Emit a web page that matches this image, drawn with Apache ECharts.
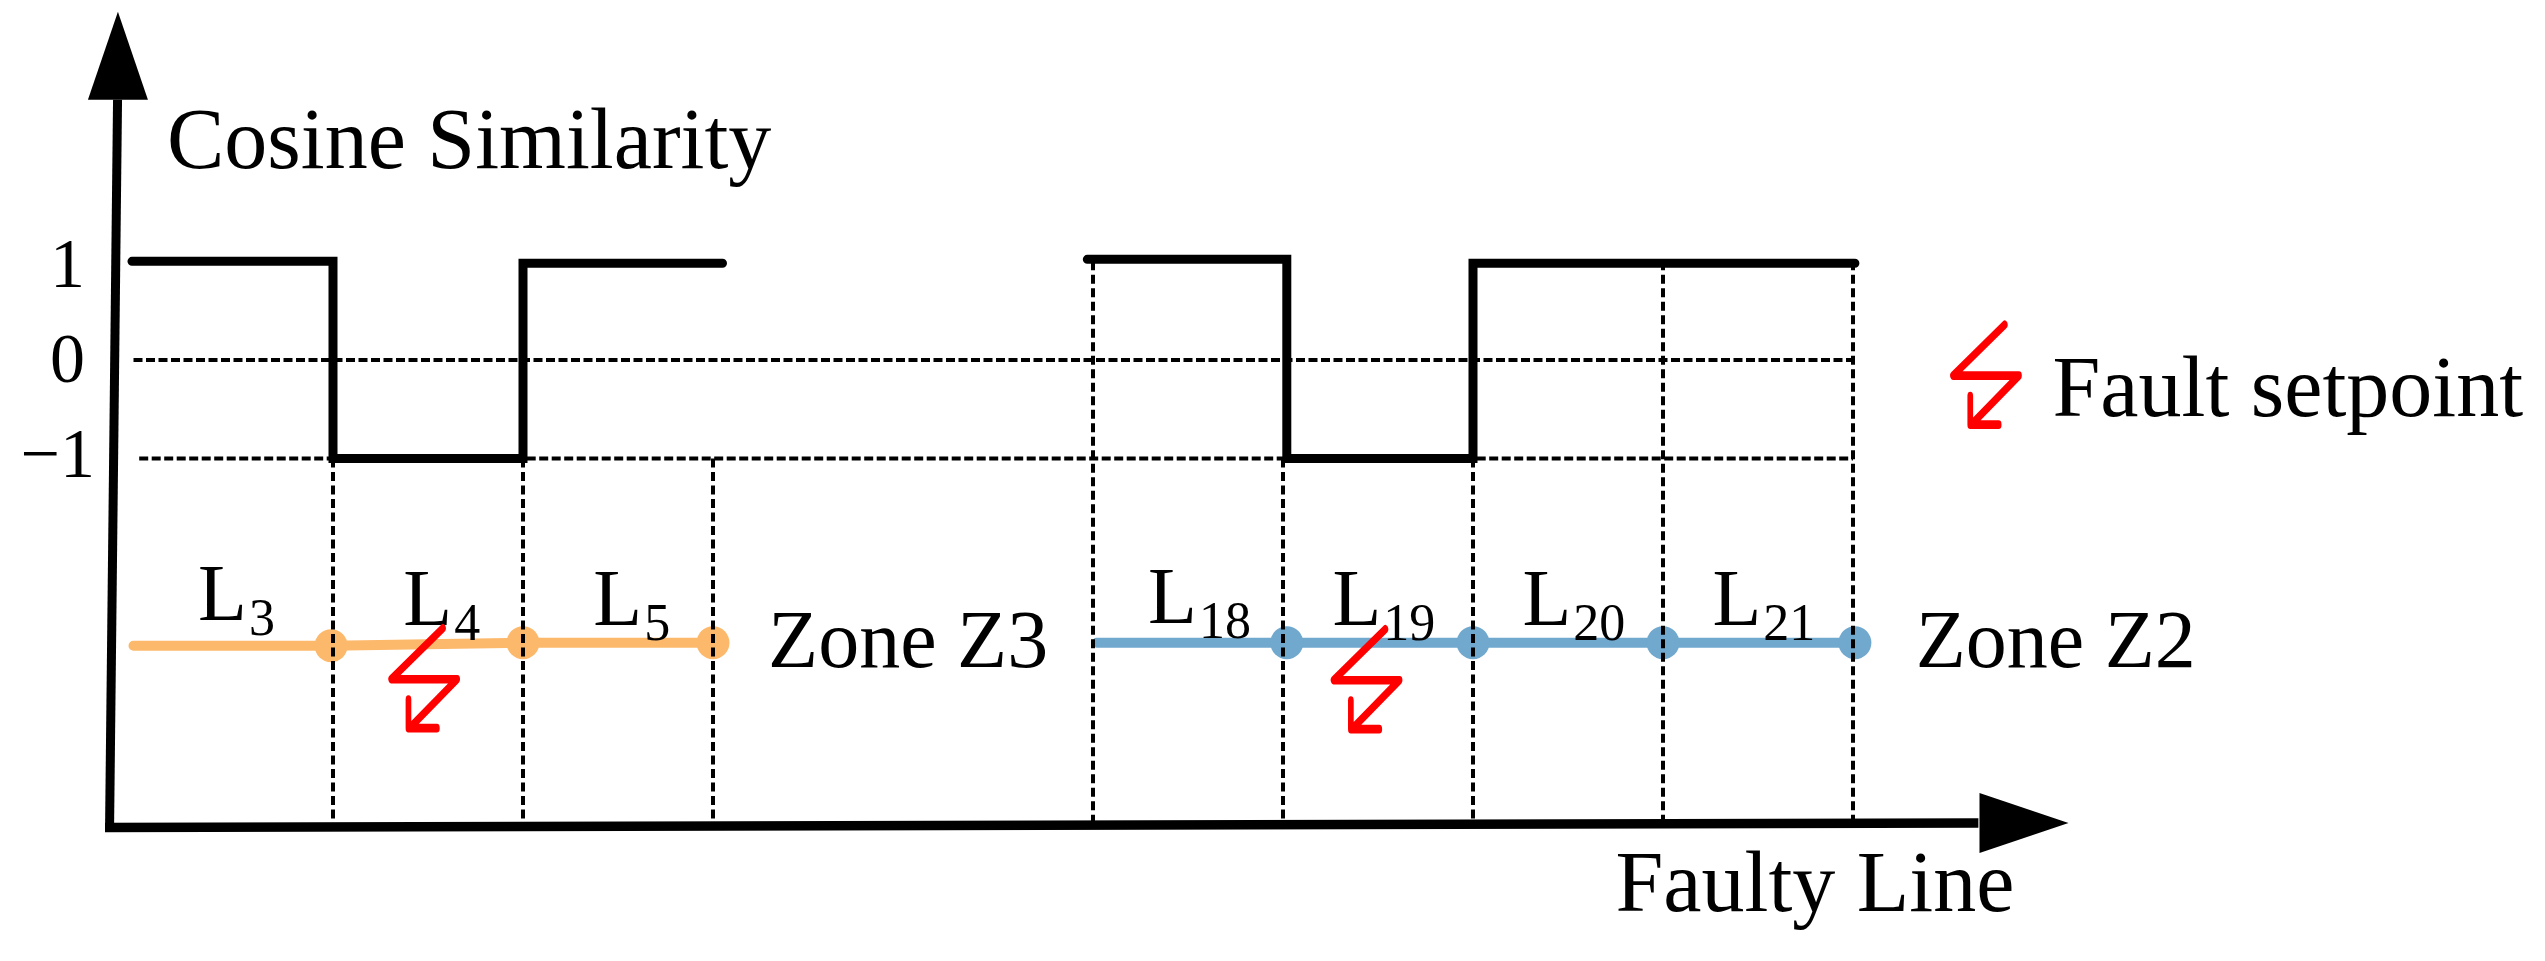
<!DOCTYPE html>
<html><head><meta charset="utf-8">
<style>html,body{margin:0;padding:0;background:#fff}#c{width:2545px;height:961px}</style>
<script src="https://cdn.jsdelivr.net/npm/echarts@6/dist/echarts.min.js"></script>
</head><body><div id="c"></div>
<script>
// x unit = one line section; y = cosine similarity
const yTicks = [-1, 0, 1];
const similarityZ3 = [[-0.058,1],[1,1],[1,-1],[2,-1],[2,0.98],[3.05,0.98]];
const similarityZ2 = [[4.97,1.02],[6.02,1.02],[6.02,-1],[7,-1],[7,0.98],[9.01,0.98]];
const zoneZ3Line = [[-0.05,-2.90],[0.99,-2.90],[2,-2.87],[3,-2.87]];
const zoneZ2Line = [[5.02,-2.87],[6.02,-2.87],[7,-2.87],[8,-2.87],[9.01,-2.87]];
const zeroGuide = [[-0.05,0],[9,0]];
const minusGuide = [[-0.02,-1],[9,-1]];
const guideTallX = [5,8,9];
const guideShortX = [1,2,3,6,7];
const axisBottom = -4.73;
const lineSubscripts = ['3','4','5','18','19','20','21'];
const lineLabelX = [0.29,1.37,2.37,5.29,6.26,7.26,8.26];
const lineLabelY = [-2.43,-2.48,-2.48,-2.46,-2.48,-2.48,-2.48];
const faultMarks = [[1.48,-3.23],[6.44,-3.24],[9.7,-0.15]];
const textNotes = [
  ['Cosine Similarity',0.126,2.18,86],
  ['Faulty Line',7.75,-5.36,86],
  ['Fault setpoint',10.05,-0.34,86],
  ['Zone Z3',3.29,-2.90,82],
  ['Zone Z2',9.33,-2.90,82]
];
const yAxisStroke = [[-0.176,-4.746],[-0.134,2.64]];
const xAxisStroke = [[-0.2,-4.746],[9.66,-4.70]];
const yAxisHead = [[-0.132,3.086]];
const xAxisHead = [[9.9,-4.70]];

const FONT = '"Liberation Serif","Times New Roman",serif';
const BOLT = 'path://M51 0 L0 50 L65 50 L18 98 M17 70 L17 98 L45 98';
const dash = {color:'#000',width:4,type:[9,4.5]};
const dot = {color:'#000',width:4,type:[9,3.5]};
function plain(data,lineStyle,z){return {type:'line',data,symbol:'none',silent:true,clip:false,animation:false,z,lineStyle};}

const series = [];
series.push(plain(xAxisStroke,{color:'#000',width:9.5,cap:'butt'},6));
series.push(plain(yAxisStroke,{color:'#000',width:9,cap:'butt'},6));
[[zoneZ3Line,'#FDB96B'],[zoneZ2Line,'#70A8CE']].forEach(([d,c])=>series.push({
  type:'line',data:d,clip:false,animation:false,z:3,showSymbol:true,showAllSymbol:true,
  symbol:(v,p)=>p.dataIndex===0?'none':'circle',symbolSize:33,
  itemStyle:{color:c,borderWidth:0,opacity:1},lineStyle:{color:c,width:10,cap:'round'}
}));
series.push(plain(zeroGuide,dot,4));
series.push(plain(minusGuide,dot,4));
guideTallX.forEach(x=>series.push(plain([[x,1],[x,axisBottom]],dash,4)));
guideShortX.forEach(x=>series.push(plain([[x,-1],[x,axisBottom]],dash,4)));
[similarityZ3,similarityZ2].forEach(d=>series.push(plain(d,{color:'#000',width:9,cap:'round',join:'miter'},5)));
series.push({type:'scatter',data:yAxisHead,symbol:'triangle',symbolSize:[60,88],clip:false,animation:false,z:6,itemStyle:{color:'#000',opacity:1}});
series.push({type:'scatter',data:xAxisHead,symbol:'triangle',symbolSize:[60,89],symbolRotate:-90,clip:false,animation:false,z:6,itemStyle:{color:'#000',opacity:1}});
series.push({type:'scatter',data:lineLabelX.map((x,i)=>[x,lineLabelY[i],lineSubscripts[i]]),symbolSize:0,clip:false,animation:false,z:7,
  itemStyle:{opacity:1},
  label:{show:true,position:[0,0],align:'left',verticalAlign:'middle',color:'#000',opacity:1,
    formatter:p=>'{L|L}{s|'+p.value[2]+'}',
    rich:{L:{fontFamily:FONT,fontSize:80,lineHeight:80,color:'#000'},
          s:{fontFamily:FONT,fontSize:52,lineHeight:18,verticalAlign:'bottom',color:'#000',padding:[0,0,-8,2]}}}});
textNotes.forEach(t=>series.push({type:'scatter',data:[[t[1],t[2]]],symbolSize:0,clip:false,animation:false,z:7,
  itemStyle:{opacity:1},
  label:{show:true,position:[0,0],align:'left',verticalAlign:'middle',formatter:t[0],fontFamily:FONT,fontSize:t[3],color:'#000',opacity:1}}));
series.push({type:'scatter',data:faultMarks,symbol:BOLT,symbolSize:[66,100],clip:false,animation:false,z:8,
  itemStyle:{color:'none',borderColor:'#FF0000',borderWidth:7,borderJoin:'round',borderCap:'round',opacity:1}});

const tickFont = {fontFamily:FONT,fontSize:70,color:'#000'};
const chart = echarts.init(document.getElementById('c'),null,{renderer:'canvas'});
chart.setOption({
  animation:false,backgroundColor:'#fff',
  grid:{left:105,right:464,top:13,bottom:135},
  xAxis:{type:'value',min:-0.2,max:10.2,axisLine:{show:false},axisTick:{show:false},axisLabel:{show:false},splitLine:{show:false}},
  yAxis:{type:'value',min:-4.73,max:3.52,axisLine:{show:false},axisTick:{show:false},splitLine:{show:false},
    axisLabel:{customValues:yTicks,margin:10,...tickFont,
      formatter:v=>v<0?'{c|\u2212'+Math.abs(v)+'}':(v===0?'{b|0}':'{a|'+v+'}'),
      rich:{a:{...tickFont,padding:[14,10,0,0]},b:{...tickFont,padding:[8,10,0,0]},c:{...tickFont}}}},
  series
});
</script></body></html>
